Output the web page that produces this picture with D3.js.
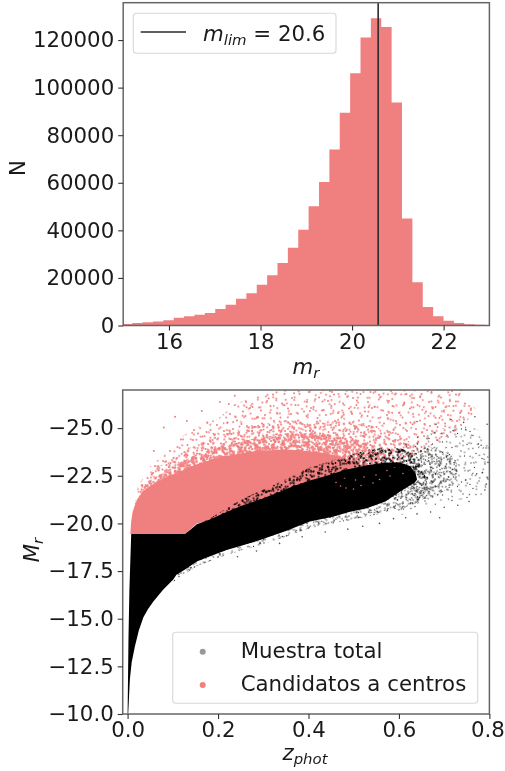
<!DOCTYPE html>
<html>
<head>
<meta charset="utf-8">
<script src="https://cdnjs.cloudflare.com/ajax/libs/d3/7.8.5/d3.min.js"></script>
<style>
  html, body { margin: 0; padding: 0; background: #fff; }
  svg { display: block; filter: blur(0.45px); }
  text { font-family: "DejaVu Sans", sans-serif; fill: #1a1a1a; }
</style>
</head>
<body>
<svg id="chart" width="505" height="771"></svg>
<script>
// histogram of m_r
const binStart = 14.97;
const binWidth = 0.2267;
const counts = [600, 1000, 1400, 1700, 2240, 3220, 3900, 4500, 5300, 6900, 8700, 11200, 13600, 17100, 21100, 26300,
  32700, 40300, 50100, 60300, 74000, 89400, 106000, 121100, 129200, 125500, 93700, 45000, 18200, 7800, 3900, 1950, 1100, 500, 300, 150];
const mLimLabel = "20.6";
const mLimLine = 20.57;
const histXTicks = [16, 18, 20, 22];
const histYTicks = [0, 20000, 40000, 60000, 80000, 100000, 120000];

// outlines of the saturated parts of the scatter, [z, M]
const pinkSolid = [[.006,-19.44],[.008,-20.1],[.011,-20.6],[.02,-21.2],[.034,-21.7],[.052,-22.0],[.083,-22.4],[.108,-22.65],[.136,-22.95],[.165,-23.2],[.2,-23.45],[.245,-23.65],[.285,-23.8],[.325,-23.85],[.375,-23.85],[.436,-23.7],[.48,-23.45],[.52,-23.0],[.48,-22.5],[.403,-22.1],[.33,-21.4],[.255,-20.9],[.182,-20.15],[.153,-20.0],[.127,-19.44]];
const blackSolid = [[.0,-10],[.001,-12],[.002,-14],[.004,-16.5],[.006,-18],[.008,-19.44],[.127,-19.44],[.14,-19.7],[.153,-19.95],[.182,-20.2],[.219,-20.6],[.255,-20.95],[.293,-21.25],[.33,-21.6],[.366,-21.95],[.403,-22.25],[.44,-22.5],[.48,-22.8],[.529,-23.05],[.57,-23.2],[.602,-23.2],[.625,-23.0],[.637,-22.6],[.64,-22.3],[.635,-22.15],[.602,-21.66],[.57,-21.15],[.529,-20.8],[.49,-20.6],[.454,-20.35],[.403,-20.1],[.35,-19.6],[.293,-19.13],[.255,-18.85],[.219,-18.6],[.185,-18.3],[.153,-18.0],[.128,-17.6],[.108,-17.3],[.101,-17.06],[.078,-16.5],[.057,-15.9],[.045,-15.5],[.035,-15.07],[.025,-14.4],[.016,-13.53],[.009,-12.7],[.005,-11.8],[.0015,-10.05]];

// zones of falling point density, outlines
const pinkFar = [[.012,-20.4],[.022,-21.9],[.05,-23.0],[.08,-23.6],[.11,-24.4],[.15,-25],[.2,-25.5],[.24,-26.3],[.3,-26.8],[.33,-27],[.74,-27],[.77,-26],[.74,-25],[.68,-24.2],[.62,-23.3],[.5,-23],[.2,-22.5],[.06,-21.3]];
const pinkMid = [[.012,-20.4],[.022,-21.8],[.05,-22.7],[.09,-23.3],[.14,-24.0],[.2,-24.6],[.27,-25.1],[.35,-25.4],[.45,-25.4],[.54,-25.1],[.6,-24.7],[.64,-24],[.62,-23.2],[.5,-23],[.2,-22.5],[.06,-21.3]];
const pinkNear = [[.012,-20.4],[.03,-21.8],[.06,-22.4],[.1,-23.0],[.15,-23.6],[.2,-24.0],[.27,-24.4],[.34,-24.7],[.42,-24.75],[.48,-24.5],[.54,-24.1],[.58,-23.5],[.55,-23],[.45,-23],[.2,-22.6],[.06,-21.4]];
const pinkOverBlack = [[.44,-22.2],[.52,-22.6],[.6,-23],[.63,-22.7],[.55,-22],[.47,-21.6]];
const blackTopFringe = [[.17,-20.1],[.219,-20.8],[.255,-21.3],[.293,-21.7],[.33,-22.1],[.366,-22.5],[.403,-22.95],[.44,-23.2],[.48,-23.5],[.529,-23.85],[.57,-24.0],[.61,-23.9],[.64,-23.5],[.66,-22.4],[.6,-22.5],[.4,-21.8],[.3,-21],[.2,-20]];
const blackLowFringe = [[.1,-16.9],[.153,-17.75],[.219,-18.35],[.293,-18.85],[.35,-19.3],[.403,-19.75],[.454,-20.0],[.529,-20.35],[.58,-20.6],[.62,-20.85],[.665,-21.4],[.68,-22.3],[.6,-22],[.5,-21],[.4,-20.4],[.3,-19.5],[.2,-18.8],[.12,-17.8]];
const blackCloud = [[.6,-24],[.64,-24.6],[.7,-25],[.76,-25.1],[.8,-24.6],[.8,-21.6],[.76,-21.35],[.7,-21.1],[.65,-20.75],[.6,-20.4],[.58,-21.5]];
const blackCloudCore = [[.62,-23.8],[.67,-24.0],[.72,-23.6],[.735,-22.8],[.72,-22],[.68,-21.4],[.64,-21.2],[.62,-22]];

// single points read from the outer parts
const pinkPoints = [[.058,-23.8],[.08,-25.03],[.105,-25.6],[.131,-25.37],[.164,-25.9],[.204,-26.37],[.224,-26.26],[.237,-26.7],[.118,-24.4],[.147,-24.9],[.176,-25.3],[.19,-24.7],[.263,-26.1],[.287,-25.6],[.312,-26.55],[.347,-26.2],[.368,-26.83],[.403,-25.9],[.431,-26.4],[.452,-26.9],[.478,-25.7],[.507,-26.45],[.533,-26.1],[.556,-26.75],[.585,-25.8],[.612,-26.35],[.647,-26.62],[.681,-25.55],[.703,-26.1],[.726,-26.4],[.744,-25.45],[.759,-25.95],[.662,-24.9],[.694,-24.55],[.63,-25.2]];
const blackPoints = [[.795,-25.2],[.782,-24.1],[.797,-23.2],[.772,-22.6],[.79,-21.75],[.743,-25.3],[.715,-25.45],[.768,-25.6],[.64,-25.35],[.682,-25.2],[.755,-21.15],[.73,-20.95],[.7,-20.85],[.67,-20.6],[.64,-20.5],[.615,-20.3],[.588,-20.25],[.69,-20.3],[.557,-20.0],[.52,-19.85],[.487,-19.7],[.437,-19.55],[.386,-19.3],[.336,-18.95],[.285,-18.55],[.243,-18.25]];

const scatterXTicks = [0, 0.2, 0.4, 0.6, 0.8];
const scatterYTicks = [-10, -12.5, -15, -17.5, -20, -22.5, -25];
const legendNames = ["Muestra total", "Candidatos a centros"];

// hand placed specks of the texture used for the density zones
const speckTile = [[3,5],[12.5,1.5],[18,9],[28,3.5],[33.5,12],[45,6.5],[51,1],[58.5,10],[7,15.5],[16,19],[22,12.5],[31,21.5],[41,16],[48.5,12],[56,20],[1.5,25],[10,28.5],[19.5,24],[26,31],[37,26.5],[44.5,23],[53,29.5],[60,26],[5.5,36],[14,33],[23,39],[29.5,35.5],[40,32],[47,38.5],[55.5,34],[3.5,45],[11,41.5],[20.5,48],[27,43],[37.5,40.5],[43,47],[51.5,42],[59,49],[8,51.5],[16.5,50],[25,52.5],[34,49],[41.5,52],[49,50.5],[57,44]];
const speckAngles = [0, 37, 71, 113, 149, 23, 59, 97, 131, 11, 83, 167];

const pink = "#f08080";
const spine = "#666";
const fontSize = 21.3;

const svg = d3.select("#chart");
const defs = svg.append("defs");

function styleAxis(g) {
  g.select(".domain").remove();
  g.selectAll(".tick line").attr("stroke", "#333").attr("stroke-width", 1.1);
  g.selectAll(".tick text").style("font-size", fontSize + "px").attr("fill", "#1a1a1a");
}

function frame(x0, x1, y0, y1) {
  svg.append("rect")
    .attr("x", x0)
    .attr("y", y0)
    .attr("width", x1 - x0)
    .attr("height", y1 - y0)
    .attr("fill", "none")
    .attr("stroke", spine)
    .attr("stroke-width", 1.5);
}

// italic letter with an italic subscript, as matplotlib mathtext does it
function mathLabel(sel, letter, sub) {
  sel.append("tspan").attr("font-style", "italic").text(letter);
  sel.append("tspan").attr("font-style", "italic").attr("font-size", fontSize * 0.7).attr("dy", 4).text(sub);
}

/*
 * top panel : histogram
 */
const hx = d3.scaleLinear().domain([15, 23]).range([123.2, 489.4]);
const hy = d3.scaleLinear().domain([0, 135700]).range([325.5, 2.7]);

svg.append("clipPath").attr("id", "histClip")
  .append("rect").attr("x", hx(15)).attr("y", hy(135700)).attr("width", hx(23) - hx(15)).attr("height", hy(0) - hy(135700));

const histArea = d3.area()
  .curve(d3.curveStepAfter)
  .x((d, i) => hx(binStart + i * binWidth))
  .y0(hy(0))
  .y1(d => hy(d));

svg.append("path")
  .attr("clip-path", "url(#histClip)")
  .attr("d", histArea(counts.concat([0])))
  .attr("fill", pink);

svg.append("line")
  .attr("x1", hx(mLimLine))
  .attr("x2", hx(mLimLine))
  .attr("y1", hy(135700))
  .attr("y2", hy(0))
  .attr("stroke", "#2b2b2b")
  .attr("stroke-width", 1.6);

frame(hx(15), hx(23), hy(135700), hy(0));

svg.append("g")
  .attr("transform", `translate(0,${hy(0)})`)
  .call(d3.axisBottom(hx).tickValues(histXTicks).tickFormat(d3.format("d")).tickSize(5).tickPadding(3))
  .call(styleAxis);

svg.append("g")
  .attr("transform", `translate(${hx(15)},0)`)
  .call(d3.axisLeft(hy).tickValues(histYTicks).tickFormat(d3.format("d")).tickSize(5).tickPadding(4))
  .call(styleAxis);

svg.append("text")
  .attr("x", 306)
  .attr("y", 374)
  .attr("text-anchor", "middle")
  .attr("font-size", fontSize)
  .call(mathLabel, "m", "r");

svg.append("text")
  .attr("transform", "translate(25,168) rotate(-90)")
  .attr("text-anchor", "middle")
  .attr("font-size", fontSize)
  .text("N");

// legend of the top panel
svg.append("rect")
  .attr("x", 133.3).attr("y", 13.3).attr("width", 202.7).attr("height", 40).attr("rx", 3)
  .attr("fill", "#fff").attr("fill-opacity", 0.8).attr("stroke", "#d8d8d8").attr("stroke-width", 1.1);
svg.append("line")
  .attr("x1", 140.7).attr("x2", 186).attr("y1", 32).attr("y2", 32)
  .attr("stroke", "#2b2b2b").attr("stroke-width", 1.6);
const limText = svg.append("text").attr("x", 203).attr("y", 40.5).attr("font-size", fontSize);
limText.call(mathLabel, "m", "lim");
limText.append("tspan").attr("dy", -4).text(" = " + mLimLabel);

/*
 * bottom panel : scatter
 */
const sx = d3.scaleLinear().domain([-0.0108, 0.8]).range([122.7, 489.4]);
const sy = d3.scaleLinear().domain([-10, -27]).range([714, 390]);

svg.append("clipPath").attr("id", "scatterClip")
  .append("rect").attr("x", sx(-0.0108)).attr("y", sy(-27)).attr("width", sx(0.8) - sx(-0.0108)).attr("height", sy(-10) - sy(-27));

const outline = d3.line().x(d => sx(d[0])).y(d => sy(d[1])).curve(d3.curveLinearClosed);
const plot = svg.append("g").attr("clip-path", "url(#scatterClip)");

let patternCount = 0;

// fills a zone with layers of the speck texture, each layer turned a bit
function speckle(zone, color, radius, opacity, layers) {
  for (let i = 0; i < layers; i++) {
    const id = `speck_${patternCount++}`;
    const pattern = defs.append("pattern")
      .attr("id", id)
      .attr("patternUnits", "userSpaceOnUse")
      .attr("width", 61)
      .attr("height", 53)
      .attr("patternTransform", `rotate(${speckAngles[i % speckAngles.length]}) translate(${patternCount * 7} ${patternCount * 11})`);
    pattern.selectAll("circle")
      .data(speckTile)
      .enter()
      .append("circle")
      .attr("cx", d => d[0])
      .attr("cy", d => d[1])
      .attr("r", radius)
      .attr("fill", color)
      .attr("opacity", opacity);
    plot.append("path").attr("d", outline(zone)).attr("fill", `url(#${id})`);
  }
}

speckle(pinkFar, pink, 1, 1, 3);
speckle(pinkMid, pink, 1.05, 1, 5);
speckle(pinkNear, pink, 1.15, 1, 11);
plot.append("path").attr("d", outline(pinkSolid)).attr("fill", pink);

speckle(blackCloud, "#000", 0.7, 0.7, 3);
speckle(blackCloudCore, "#000", 0.75, 0.75, 9);
speckle(blackLowFringe, "#000", 0.65, 0.8, 9);
speckle(blackTopFringe, "#000", 0.9, 0.95, 9);
plot.append("path").attr("d", outline(blackSolid)).attr("fill", "#000");
speckle(pinkOverBlack, pink, 0.8, 0.9, 1);

plot.append("g")
  .selectAll("circle")
  .data(blackPoints)
  .enter()
  .append("circle")
  .attr("cx", d => sx(d[0]))
  .attr("cy", d => sy(d[1]))
  .attr("r", 0.8)
  .attr("fill", "#000")
  .attr("opacity", 0.7);

plot.append("g")
  .selectAll("circle")
  .data(pinkPoints)
  .enter()
  .append("circle")
  .attr("cx", d => sx(d[0]))
  .attr("cy", d => sy(d[1]))
  .attr("r", 1)
  .attr("fill", pink);

frame(sx(-0.0108), sx(0.8), sy(-27), sy(-10));

svg.append("g")
  .attr("transform", `translate(0,${sy(-10)})`)
  .call(d3.axisBottom(sx).tickValues(scatterXTicks).tickFormat(d3.format(".1f")).tickSize(5).tickPadding(3))
  .call(styleAxis)
  .selectAll(".tick:last-of-type text")
  .attr("dx", -2);

svg.append("g")
  .attr("transform", `translate(${sx(-0.0108)},0)`)
  .call(d3.axisLeft(sy).tickValues(scatterYTicks).tickFormat(d => d3.format(".1f")(d).replace("-", "\u2212")).tickSize(5).tickPadding(4))
  .call(styleAxis);

svg.append("text")
  .attr("x", 305)
  .attr("y", 760)
  .attr("text-anchor", "middle")
  .attr("font-size", fontSize)
  .call(mathLabel, "z", "phot");

svg.append("text")
  .attr("transform", "translate(39,550) rotate(-90)")
  .attr("text-anchor", "middle")
  .attr("font-size", fontSize)
  .call(mathLabel, "M", "r");

// legend of the bottom panel
svg.append("rect")
  .attr("x", 172.7).attr("y", 632.3).attr("width", 305).attr("height", 71).attr("rx", 3)
  .attr("fill", "#fff").attr("fill-opacity", 0.8).attr("stroke", "#d8d8d8").attr("stroke-width", 1.1);

legendNames.forEach((name, i) => {
  svg.append("circle")
    .attr("cx", 202.7)
    .attr("cy", 651.7 + i * 33.3)
    .attr("r", 3)
    .attr("fill", i === 0 ? "#999" : pink);
  svg.append("text")
    .attr("x", 240.7)
    .attr("y", 658.3 + i * 32.4)
    .attr("font-size", fontSize)
    .text(name);
});
</script>
</body>
</html>
